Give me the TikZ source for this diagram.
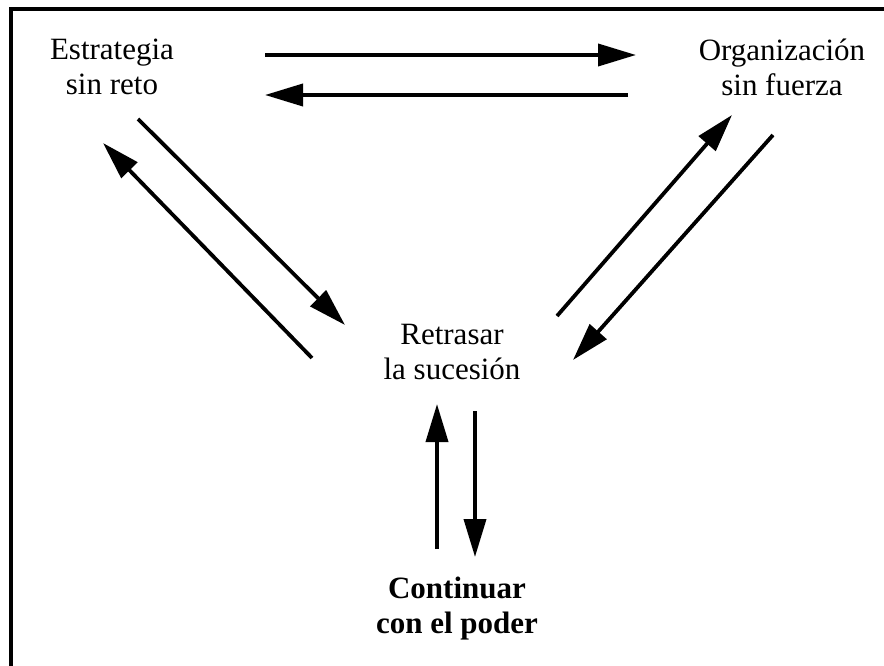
\documentclass[tikz,border=0pt]{standalone}
\usepackage{fontspec}
\setmainfont{Liberation Serif}
\usetikzlibrary{arrows.meta}

\begin{document}
\begin{tikzpicture}[x=1pt,y=-1pt,
    label/.style={align=center,font=\fontsize{31}{35}\selectfont},
    link/.style={line width=3.8pt,-{Triangle[length=38pt,width=22pt]}}]
  \useasboundingbox (0,0) rectangle (884,666);
  \draw[line width=3.8pt] (11,666) -- (11,9) -- (884,9);
  % vertices
  \node[label] (strat) at (112,67) {Estrategia\\sin reto};
  \node[label] (org)   at (782,67) {Organización\\sin fuerza};
  \node[label] (retr)  at (452,352) {Retrasar\\la sucesión};
  \node[label] (cont)  at (457,609) {\bfseries Continuar\\\bfseries con el poder};
  % arrow ends
  \coordinate (s1) at (265,55);  \coordinate (o1) at (636,55);
  \coordinate (o2) at (628,95);  \coordinate (s2) at (265,95);
  \coordinate (s3) at (138,119); \coordinate (r1) at (345,325);
  \coordinate (r2) at (312,358); \coordinate (s4) at (103,143);
  \coordinate (r3) at (557,316); \coordinate (o3) at (732,115);
  \coordinate (o4) at (773,135); \coordinate (r4) at (573,360);
  \coordinate (c1) at (437,549); \coordinate (r5) at (437,404);
  \coordinate (r6) at (475,411); \coordinate (c2) at (475,557);
  % edges
  \draw[link] (s1) -- (o1);
  \draw[link] (o2) -- (s2);
  \draw[link] (s3) -- (r1);
  \draw[link] (r2) -- (s4);
  \draw[link] (r3) -- (o3);
  \draw[link] (o4) -- (r4);
  \draw[link] (c1) -- (r5);
  \draw[link] (r6) -- (c2);
\end{tikzpicture}
\end{document}
